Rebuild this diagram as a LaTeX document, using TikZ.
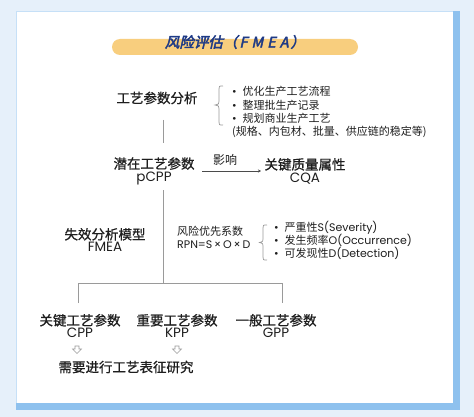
\documentclass[tikz,border=0pt]{standalone}
\usepackage{fontspec}
\setmainfont{Poppins}
\newfontfamily\cjk{Noto Sans CJK SC}
\newfontfamily\cjkh[FakeBold=0.8]{Noto Sans CJK SC}
\newfontfamily\cjktitle[FakeBold=3,FakeSlant=0.22]{Noto Sans CJK SC}
\usetikzlibrary{arrows.meta}
\definecolor{bgblue}{HTML}{E6F0FA}
\definecolor{shadowblue}{HTML}{8EC1EE}
\definecolor{pill}{HTML}{F8CE7E}
\definecolor{navy}{HTML}{1E3A86}
\definecolor{txt}{HTML}{1E1E1E}
\definecolor{linegray}{HTML}{9A9A9A}
\tikzset{
  heading/.style={inner sep=0pt, align=center, text=txt, font=\fontsize{13.5}{13.5}\selectfont},
  detail/.style={inner sep=0pt, align=left, anchor=west, text=txt, font=\fontsize{11}{13}\selectfont},
  trunk/.style={draw=linegray, line width=0.8pt},
  bracebar/.style={draw=linegray, line width=0.7pt},
  hollow/.style={draw=linegray, line width=0.6pt, fill=white}
}
\newcommand{\hollowarrow}[2]{%
  \draw[hollow] (#1-2,#2-4) -- (#1+2,#2-4) -- (#1+2,#2-1) -- (#1+4.5,#2-1) -- (#1,#2+3.5) -- (#1-4.5,#2-1) -- (#1-2,#2-1) -- cycle;}
\begin{document}
\begin{tikzpicture}[x=1pt,y=-1pt]
\useasboundingbox (0,0) rectangle (474,417);
% background
\fill[bgblue] (0,0) rectangle (474,417);
\fill[shadowblue] (16,11) rectangle (460,410);
\fill[white] (16,11) rectangle (453,403);
\draw[shadowblue!50, line width=0.4pt] (16,403) -- (16,11) -- (453,11);
% title
\fill[pill] (112,39) [rounded corners=8pt] rectangle (358,55);
\node[inner sep=0pt, text=navy, font=\cjktitle\fontsize{14.5}{14.5}\selectfont] (title) at (235,42)
  {风险评估（\hspace{2pt}F\hspace{4pt}M\hspace{4pt}E\hspace{4pt}A\hspace{2pt}）};
% process analysis
\node[heading, font=\cjkh\fontsize{13.5}{13.5}\selectfont] (ana) at (157,98) {工艺参数分析};
\draw[bracebar] (223,86) .. controls (219,86) .. (219,89) -- (219,101) .. controls (219,104) .. (215,105)
  .. controls (219,106) .. (219,109) -- (219,122) .. controls (219,125) .. (223,125);
\node[detail] (b1) at (232,91) {•\hspace{6pt}{\cjk 优化生产工艺流程}};
\node[detail] (b2) at (232,105) {•\hspace{6pt}{\cjk 整理批生产记录}};
\node[detail] (b3) at (232,118) {•\hspace{6pt}{\cjk 规划商业生产工艺}};
\node[detail] (b4) at (232,132) {{\cjk (规格、内包材、批量、供应链的稳定等)}};
% pCPP and CQA
\node[heading] (pcpp) at (154,171) {{\cjkh 潜在工艺参数}\\[-1pt]pCPP};
\node[heading] (cqa) at (305,171) {{\cjkh 关键质量属性}\\[-1pt]CQA};
\coordinate (arrS) at (202,171);
\coordinate (arrE) at (261,171);
\draw[draw=txt!80, line width=0.6pt, -{Stealth[length=3pt,width=3pt]}] (arrS) -- (arrE);
\node[inner sep=0pt, text=txt, font=\cjk\fontsize{12}{12}\selectfont] (yx) at (225,160) {影响};
% vertical trunk pieces
\coordinate (t1) at (163,120);
\coordinate (t2) at (163,143);
\draw[trunk] (t1) -- (t2);
\coordinate (t3) at (163,190);
\coordinate (t4) at (163,283);
\draw[trunk] (t3) -- (t4);
% FMEA
\node[heading] (fmea) at (105,240) {{\cjkh 失效分析模型}\\[-1pt]FMEA};
\node[detail] (rpn) at (177,237) {{\cjk 风险优先系数}\\RPN=S\,×\,O\,×\,D};
\draw[bracebar] (267,225) .. controls (263,225) .. (263,228) -- (263,239) .. controls (263,241.5) .. (259.5,242.5)
  .. controls (263,243.5) .. (263,246) -- (263,257) .. controls (263,260) .. (267,260);
\node[detail] (s1) at (274,228) {•\hspace{6pt}{\cjk 严重性}S(Severity)};
\node[detail] (s2) at (274,240.5) {•\hspace{6pt}{\cjk 发生频率}O(Occurrence)};
\node[detail] (s3) at (274,253) {•\hspace{6pt}{\cjk 可发现性}D(Detection)};
% branches
\coordinate (hL) at (78,283);
\coordinate (hR) at (282,283);
\coordinate (dL) at (78,303);
\coordinate (dR) at (282,303);
\draw[trunk] (dL) -- (hL) -- (hR) -- (dR);
\node[heading] (cpp) at (80,326) {{\cjkh 关键工艺参数}\\[-1pt]CPP};
\node[heading] (kpp) at (177,326) {{\cjkh 重要工艺参数}\\[-1pt]KPP};
\node[heading] (gpp) at (276,326) {{\cjkh 一般工艺参数}\\[-1pt]GPP};
\hollowarrow{77}{350}
\hollowarrow{177}{350}
\node[heading, font=\cjkh\fontsize{13.5}{13.5}\selectfont] (res) at (126,367) {需要进行工艺表征研究};
\end{tikzpicture}
\end{document}
